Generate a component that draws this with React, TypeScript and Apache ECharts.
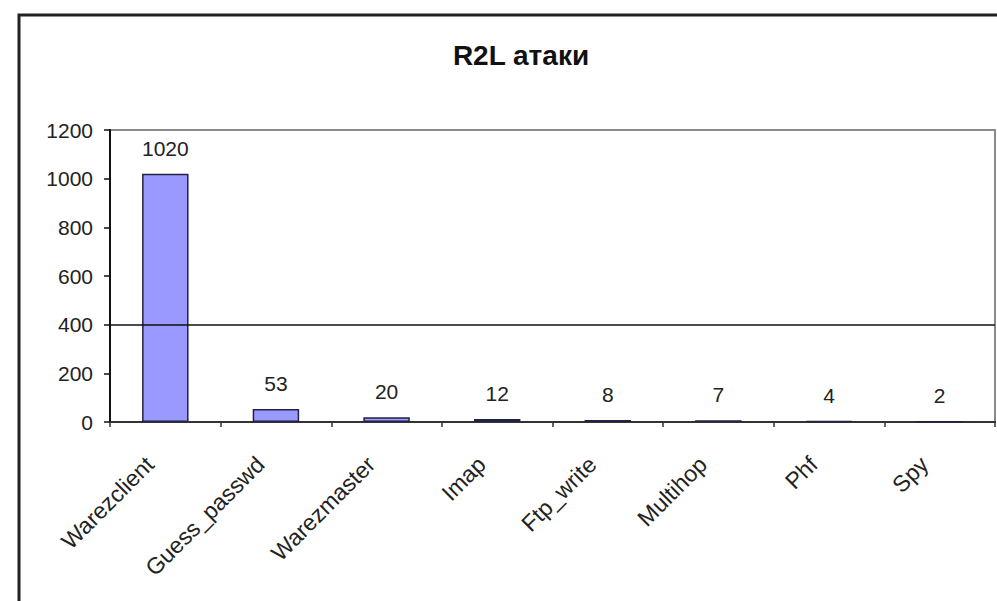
import React, { useEffect, useRef } from "react";
import * as echarts from "echarts";

const categories = ["Warezclient", "Guess_passwd", "Warezmaster", "Imap", "Ftp_write", "Multihop", "Phf", "Spy"];
const values = [1020, 53, 20, 12, 8, 7, 4, 2];
const yTicks = { min: 0, max: 1200, interval: 200 };
const referenceLine = 400;
const title = "R2L атаки";

const FONT = 'Arial, "Liberation Sans", sans-serif';

export default function App() {
  const ref = useRef<HTMLDivElement>(null);
  useEffect(() => {
    if (!ref.current) return;
    const chart = echarts.init(ref.current, undefined, { renderer: "svg" });
    chart.setOption({
      animation: false,
      backgroundColor: "#ffffff",
      textStyle: { fontFamily: FONT },
      title: {
        text: title,
        left: 516,
        top: 36,
        textAlign: "center",
        textStyle: { fontFamily: FONT, fontSize: 28, fontWeight: "bold", color: "#111" },
      },
      graphic: [
        {
          type: "rect",
          shape: { x: 19, y: 15, width: 1000, height: 620 },
          style: { fill: "none", stroke: "#222", lineWidth: 3 },
          silent: true,
        },
      ],
      grid: {
        left: 110,
        right: 2,
        top: 130,
        bottom: 179,
        show: true,
        borderColor: "#8a8a8a",
        borderWidth: 2,
        containLabel: false,
      },
      xAxis: {
        type: "category",
        data: categories,
        boundaryGap: true,
        axisLine: { show: true, lineStyle: { color: "#333", width: 2 } },
        axisTick: { show: true, length: 5, alignWithLabel: false, lineStyle: { color: "#333", width: 1.5 } },
        axisLabel: {
          interval: 0,
          rotate: 45,
          margin: 23,
          padding: [0, 22, 0, 0],
          fontSize: 23,
          color: "#222",
          fontFamily: FONT,
        },
      },
      yAxis: {
        type: "value",
        min: yTicks.min,
        max: yTicks.max,
        interval: yTicks.interval,
        axisLine: { show: true, lineStyle: { color: "#111", width: 2 } },
        axisTick: { show: true, length: 6, lineStyle: { color: "#111", width: 1.5 } },
        splitLine: { show: false },
        axisLabel: {
          margin: 17,
          fontSize: 21,
          color: "#222",
          fontFamily: FONT,
          formatter: (v: number) => String(v),
        },
      },
      series: [
        {
          type: "bar",
          data: values,
          barWidth: "42%",
          itemStyle: { color: "#9999FF", borderColor: "#222244", borderWidth: 1.5 },
          label: {
            show: true,
            position: "top",
            distance: 15,
            fontSize: 21,
            color: "#222",
            fontFamily: FONT,
          },
          markLine: {
            silent: true,
            symbol: "none",
            label: { show: false },
            lineStyle: { color: "#111", type: "solid", width: 1.5 },
            data: [{ yAxis: referenceLine }],
          },
        },
      ],
    });
    return () => chart.dispose();
  }, []);
  return (
    <div
      ref={ref}
      style={{ position: "fixed", left: 0, top: 0, width: 997, height: 601 }}
    />
  );
}
